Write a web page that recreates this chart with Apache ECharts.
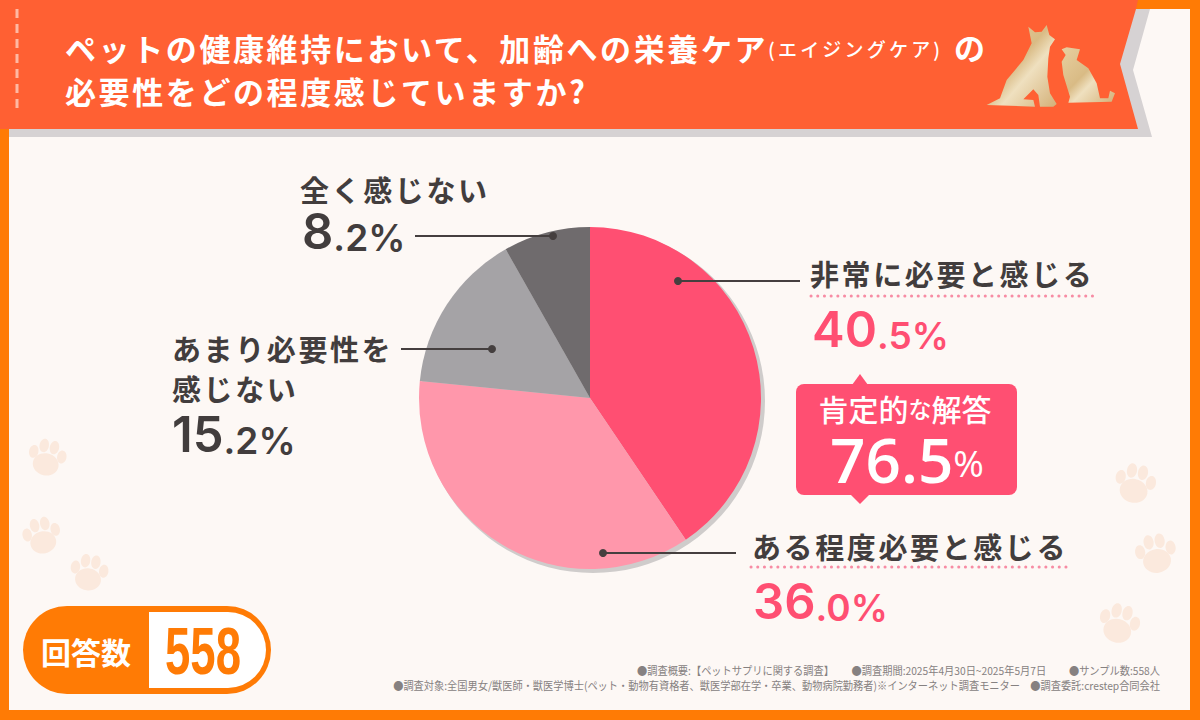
<!DOCTYPE html>
<html><head><meta charset="utf-8">
<style>
html,body{margin:0;padding:0;background:#fdf8f5}
#c{width:1200px;height:720px}
text[style*="bold 31px"]{letter-spacing:2.6px}
text[style*="bold 29px"]{letter-spacing:2.6px}
text[style*="500 19px"]{letter-spacing:3.2px}
</style>
<script src="https://cdn.jsdelivr.net/npm/echarts@6/dist/echarts.min.js"></script>
</head><body><div id="c"></div>
<script>
const categories=['非常に必要と感じる','ある程度必要と感じる','あまり必要性を\n感じない','全く感じない'];
const values=[40.5,36.0,15.2,8.2];
const sliceColors=['#ff4f72','#ff97ab','#a5a3a6','#6f6b6d'];
const positiveLabel='肯定的な解答';
const positiveValue=76.5;
const sampleLabel='回答数';
const sampleCount='558';
const titleLine1='ペットの健康維持において、加齢への栄養ケア';
const titleParen='(エイジングケア)';
const titleLine1End='の';
const titleLine2='必要性をどの程度感じていますか?';
const footLine1='●調査概要:【ペットサプリに関する調査】　　 ●調査期間:2025年4月30日~2025年5月7日　　 ●サンプル数:558人';
const footLine2='●調査対象:全国男女/獣医師・獣医学博士(ペット・動物有資格者、獣医学部在学・卒業、動物病院勤務者)※インターネット調査モニター　●調査委託:crestep合同会社';

const JP='"Noto Sans CJK JP"';
const NUM='Inter,"Open Sans"';
const NUM2='"Open Sans","Noto Sans"';
const INK='#423d3d', PINK='#ff4f72', ORANGE='#ff7b05', RED='#ff6033';
const g=[];
const rect=(x,y,w,h,fill,r,z)=>g.push({type:'rect',silent:true,z:z||1,shape:{x,y,width:w,height:h,r:r||0},style:{fill}});
const poly=(points,fill,z)=>g.push({type:'polygon',silent:true,z:z||1,shape:{points},style:{fill}});
const txt=(x,y,text,font,fill)=>g.push({type:'text',silent:true,z:5,x,y,style:{text,font,fill,textAlign:'left',textVerticalAlign:'middle'}});

// frame
rect(0,0,1200,720,ORANGE,0,0);
rect(9,9,1181,701,'#fdf8f5',0,0);
// banner
poly([[9,129],[9,137],[1152,137],[1133,70],[1150,9],[1000,9]],'#d6d2d3',1);
poly([[0,0],[1138,0],[1136,9],[1120,64],[1138,129],[0,129]],RED,2);
g.push({type:'line',silent:true,z:3,shape:{x1:17,y1:9,x2:17,y2:114},style:{stroke:'#ffb9a3',lineWidth:3,lineDash:[9,6]}});
txt(65,47,titleLine1,'bold 31px '+JP,'#fff');
txt(768,48,titleParen,'500 19px '+JP,'#fff');
txt(954,46,titleLine1End,'bold 31px '+JP,'#fff');
txt(65,90,titleLine2,'bold 31px '+JP,'#fff');
// dog and cat
const gold={type:'linear',x:0,y:0,x2:1,y2:1,colorStops:[{offset:0,color:'#e8cfa0'},{offset:.45,color:'#d9bb85'},{offset:.6,color:'#efe0bf'},{offset:1,color:'#d3b078'}]};
const z3=p=>p.map(a=>[900+a[0]/3,a[1]/3]);
poly(z3([[385,80],[405,97],[425,95],[440,75],[448,105],[465,118],[450,140],[445,175],[442,230],[450,280],[470,312],[460,320],[420,320],[415,285],[400,268],[370,298],[400,300],[405,320],[260,315],[300,295],[320,240],[370,180],[395,130]]),gold,3);
poly(z3([[485,148],[500,142],[540,148],[530,180],[565,205],[590,250],[600,295],[625,295],[630,272],[645,280],[635,305],[505,308],[510,290],[490,225],[485,185],[497,165]]),gold,3);
// paws
function paw(cx,cy,s,rot){
  const c='#fbe9dd';
  const part=(x,y,rx,ry)=>({type:'ellipse',silent:true,z:1,shape:{cx:x*s,cy:y*s,rx:rx*s,ry:ry*s},style:{fill:c}});
  g.push({type:'group',silent:true,z:1,x:cx,y:cy,rotation:rot,children:[
    part(0,5,10,8.5),part(-11,-3,3.6,5),part(-4,-9,3.6,5.2),part(4,-9,3.6,5.2),part(11,-3,3.6,5)
  ]});
}
paw(47,458,1.3,-.2);paw(42,536,1.3,.2);paw(89,573,1.3,-.15);
paw(1135,484,1.4,-.2);paw(1156,554,1.4,.15);paw(1119,624,1.4,-.25);
// pie shadow
g.push({type:'circle',silent:true,z:1,shape:{cx:593,cy:401,r:172},style:{fill:'#cfcccb'}});
// leaders
function leader(x1,y1,x2,y2){
  g.push({type:'line',silent:true,z:6,shape:{x1,y1,x2,y2},style:{stroke:'#453f3f',lineWidth:2}});
  g.push({type:'circle',silent:true,z:6,shape:{cx:x1,cy:y1,r:4},style:{fill:'#453f3f'}});
}
leader(678,281,800,281);leader(603,553,736,553);leader(492,349,401,349);leader(553,236,415,236);
// labels
const pct=(v)=>{const s=v.toFixed(1).split('.');return {a:s[0],b:'.'+s[1]+'%'}};
function pctText(x,y,v,color){
  const p=pct(v);
  g.push({type:'text',silent:true,z:5,x,y,style:{text:'{a|'+p.a+'}{b|'+p.b+'}',rich:{
    a:{font:'600 49px '+NUM,fill:color,verticalAlign:'bottom',lineHeight:40},
    b:{font:'600 37px '+NUM,fill:color,verticalAlign:'bottom',lineHeight:40}},textAlign:'left',textVerticalAlign:'middle'}});
}
const LF='bold 29px '+JP;
txt(810,273,categories[0],LF,INK);
g.push({type:'line',silent:true,z:5,shape:{x1:811,y1:296,x2:1095,y2:296},style:{stroke:'#f78ca4',lineWidth:3,lineDash:[.1,6.6],lineCap:'round'}});
pctText(812,334,values[0],PINK);
txt(752,546,categories[1],LF,INK);
g.push({type:'line',silent:true,z:5,shape:{x1:751,y1:567,x2:1066,y2:567},style:{stroke:'#f78ca4',lineWidth:3,lineDash:[.1,6.6],lineCap:'round'}});
pctText(753,606,values[1],PINK);
const l3=categories[2].split('\n');
txt(172,348,l3[0],LF,INK);
txt(172,388,l3[1],LF,INK);
pctText(172,439,values[2],INK);
txt(300,189,categories[3],LF,INK);
pctText(302,236,values[3],INK);
// badge
poly([[852,385],[860,374],[868,385]],PINK,2);
poly([[850,494],[860,504],[870,494]],PINK,2);
rect(796,384,221,111,PINK,8,2);
g.push({type:'text',silent:true,z:5,x:905,y:408,style:{text:'{a|肯定的}{b|な}{a|解答}',rich:{a:{font:'500 30px '+JP,fill:'#fff',lineHeight:30},b:{font:'500 23px '+JP,fill:'#fff',lineHeight:30}},textAlign:'center',textVerticalAlign:'middle'}});
g.push({type:'text',silent:true,z:5,x:830,y:459,style:{text:'{a|'+positiveValue.toFixed(1)+'}{b|%}',rich:{a:{font:'600 62px '+NUM2,fill:'#fff',lineHeight:44},b:{font:'500 37px '+NUM2,fill:'#fff',verticalAlign:'bottom',lineHeight:44}},textAlign:'left',textVerticalAlign:'middle'}});
// sample pill
rect(23,606,248,88,ORANGE,44,2);
g.push({type:'rect',silent:true,z:3,shape:{x:149,y:612,width:117,height:76,r:[0,38,38,0]},style:{fill:'#fff'}});
txt(41,651,sampleLabel,'bold 30px '+JP,'#fff');
g.push({type:'text',silent:true,z:5,x:165,y:651,scaleX:.69,style:{text:sampleCount,font:'bold 66px "Liberation Sans Narrow","Liberation Sans"',fill:ORANGE,textAlign:'left',textVerticalAlign:'middle'}});
// footer
const FF='11px '+JP;
g.push({type:'text',silent:true,z:5,x:1160,y:670,scaleX:.93,style:{text:footLine1,font:FF,fill:'#868181',textAlign:'right',textVerticalAlign:'middle'}});
g.push({type:'text',silent:true,z:5,x:1160,y:685,scaleX:.93,style:{text:footLine2,font:FF,fill:'#868181',textAlign:'right',textVerticalAlign:'middle'}});

const chart=echarts.init(document.getElementById('c'),null,{renderer:'svg',width:1200,height:720});
chart.setOption({
  animation:false,
  backgroundColor:'#fdf8f5',
  graphic:{elements:g},
  series:[{type:'pie',z:2,center:[590,398],radius:[0,171],startAngle:90,clockwise:true,silent:true,
    label:{show:false},labelLine:{show:false},itemStyle:{borderWidth:0},
    data:categories.map((n,i)=>({name:n,value:values[i],itemStyle:{color:sliceColors[i]}}))}]
});
</script></body></html>
